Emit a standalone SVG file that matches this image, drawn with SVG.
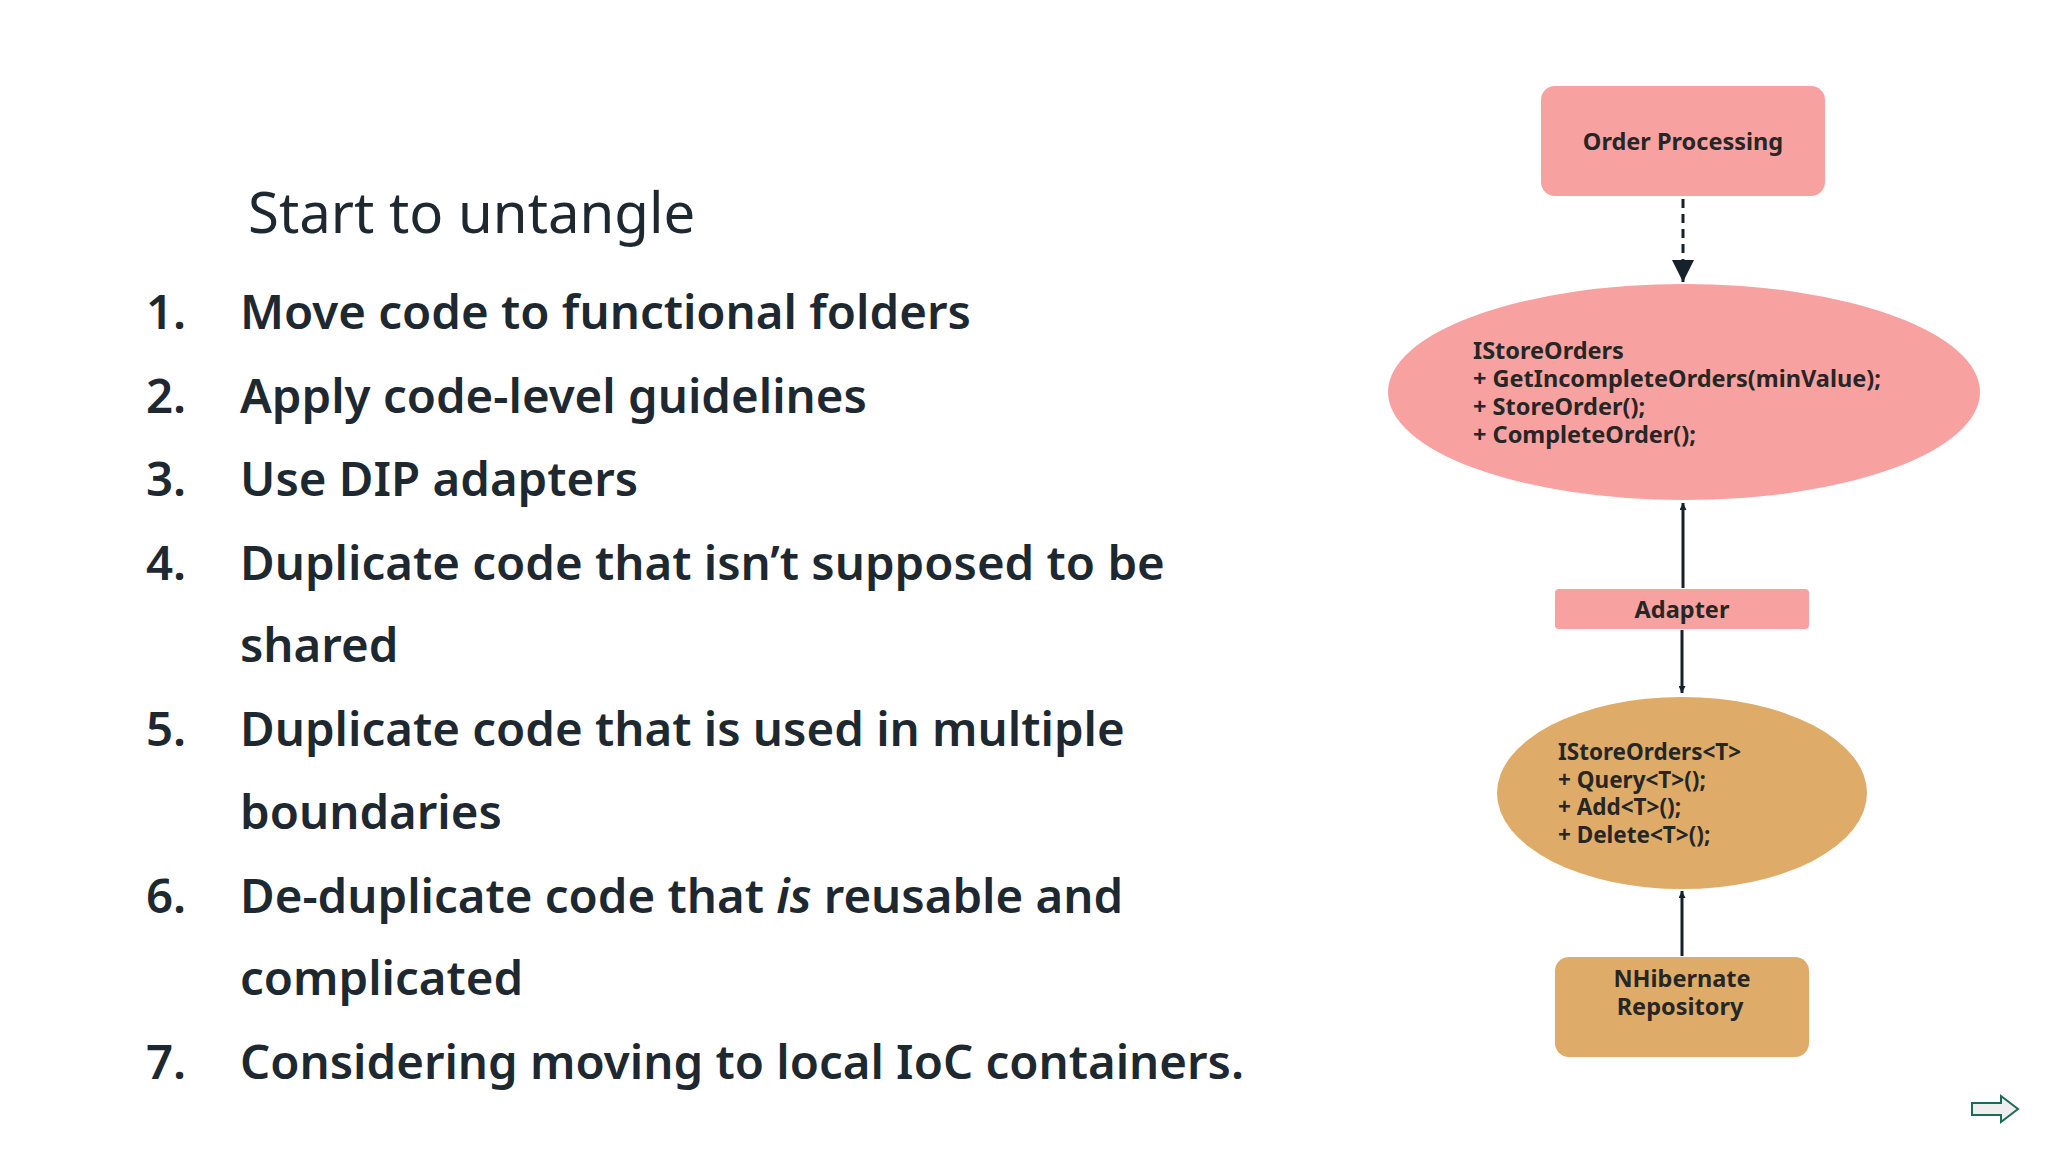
<svg xmlns="http://www.w3.org/2000/svg" width="2048" height="1152" viewBox="0 0 2048 1152">
<style>
.li{font-family:"Noto Sans","Open Sans",sans-serif;font-size:47.4px;font-weight:600;fill:#1e2830}
.t{font-family:"Noto Sans","Open Sans",sans-serif;font-size:23.5px;font-weight:700;fill:#262626}
.s{font-size:22.5px}
.pink{fill:#f7a1a1}
.tan{fill:#deac68}
.c{stroke:#17212b;stroke-width:3;fill:none}
</style>
<defs>
<marker id="ab" viewBox="0 0 10 10" refX="10" refY="5" markerWidth="7" markerHeight="7" markerUnits="userSpaceOnUse" orient="auto"><path d="M0,0L10,5L0,10z" fill="#17212b"/></marker>
<marker id="ab2" viewBox="0 0 10 10" refX="10" refY="5" markerWidth="22" markerHeight="22" markerUnits="userSpaceOnUse" orient="auto"><path d="M0,0L10,5L0,10z" fill="#17212b"/></marker>
</defs>
<rect width="2048" height="1152" fill="#fff"/>
<text x="248" y="233" font-family="Noto Sans,sans-serif" font-size="56.3" fill="#1e2830">Start to untangle</text>
<g class="li">
<text x="146" y="329">1.</text><text x="240" y="329">Move code to functional folders</text>
<text x="146" y="413">2.</text><text x="240" y="413">Apply code-level guidelines</text>
<text x="146" y="496">3.</text><text x="240" y="496">Use DIP adapters</text>
<text x="146" y="580">4.</text><text x="240" y="580">Duplicate code that isn’t supposed to be</text>
<text x="240" y="662">shared</text>
<text x="146" y="746">5.</text><text x="240" y="746">Duplicate code that is used in multiple</text>
<text x="240" y="829">boundaries</text>
<text x="146" y="913">6.</text><text x="240" y="913">De-duplicate code that <tspan font-style="italic">is</tspan> reusable and</text>
<text x="240" y="995">complicated</text>
<text x="146" y="1079">7.</text><text x="240" y="1079">Considering moving to local IoC containers.</text>
</g>
<g id="connectors">
<line class="c" x1="1683" y1="199" x2="1683" y2="282" stroke-dasharray="9,6" marker-end="url(#ab2)"/>
<line class="c" x1="1683" y1="588" x2="1683" y2="503" marker-end="url(#ab)"/>
<line class="c" x1="1682" y1="630" x2="1682" y2="693" marker-end="url(#ab)"/>
<line class="c" x1="1682" y1="956" x2="1682" y2="891" marker-end="url(#ab)"/>
</g>
<g id="order-processing">
<rect class="pink" x="1541" y="86" width="284" height="110" rx="14"/>
<text class="t" x="1683" y="150" text-anchor="middle">Order Processing</text>
</g>
<g id="istoreorders">
<ellipse class="pink" cx="1684" cy="392" rx="296" ry="108"/>
<text class="t" x="1473" y="359">IStoreOrders</text>
<text class="t" x="1473" y="387">+ GetIncompleteOrders(minValue);</text>
<text class="t" x="1473" y="415">+ StoreOrder();</text>
<text class="t" x="1473" y="443">+ CompleteOrder();</text>
</g>
<g id="adapter">
<rect class="pink" x="1555" y="589" width="254" height="40" rx="4"/>
<text class="t" x="1682" y="618" text-anchor="middle">Adapter</text>
</g>
<g id="istoreorders-t">
<ellipse class="tan" cx="1682" cy="793" rx="185" ry="96"/>
<text class="t s" x="1558" y="760">IStoreOrders&lt;T&gt;</text>
<text class="t s" x="1558" y="788">+ Query&lt;T&gt;();</text>
<text class="t s" x="1558" y="815">+ Add&lt;T&gt;();</text>
<text class="t s" x="1558" y="843">+ Delete&lt;T&gt;();</text>
</g>
<g id="nhibernate">
<rect class="tan" x="1555" y="957" width="254" height="100" rx="14"/>
<text class="t" x="1682" y="987" text-anchor="middle">NHibernate</text>
<text class="t" x="1680" y="1015" text-anchor="middle">Repository</text>
</g>
<path d="M1972,1103H2001V1096L2018,1109L2001,1122V1115H1972Z" fill="#eee" stroke="#1e6b55" stroke-width="2"/>
</svg>
